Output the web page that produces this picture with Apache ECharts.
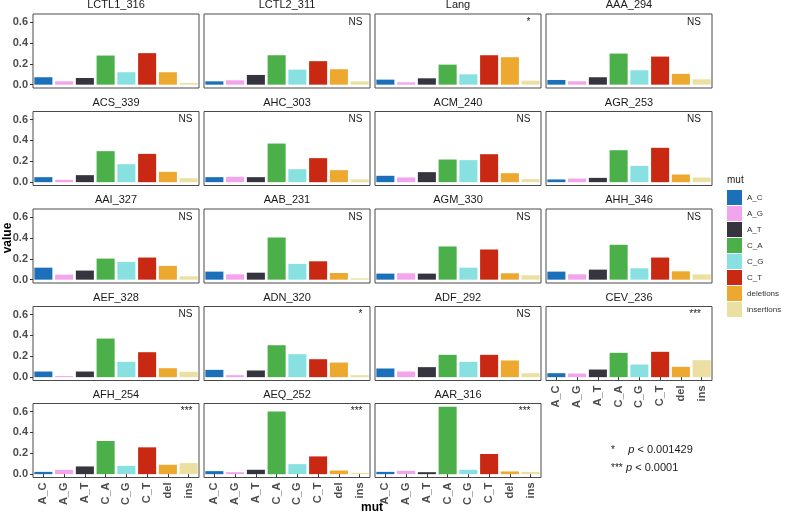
<!DOCTYPE html>
<html>
<head>
<meta charset="utf-8">
<script src="https://cdn.jsdelivr.net/npm/echarts@6/dist/echarts.min.js"></script>
<style>
html,body{margin:0;padding:0;background:#fff;}
#chart{width:789px;height:516px;}
</style>
</head>
<body>
<div id="chart"></div>
<script>
// ---- data ----
const categories = ['A_C','A_G','A_T','C_A','C_G','C_T','del','ins'];
const legendNames = ['A_C','A_G','A_T','C_A','C_G','C_T','deletions','insertions'];
const panelNames = ['LCTL1_316','LCTL2_311','Lang','AAA_294',
                    'ACS_339','AHC_303','ACM_240','AGR_253',
                    'AAI_327','AAB_231','AGM_330','AHH_346',
                    'AEF_328','ADN_320','ADF_292','CEV_236',
                    'AFH_254','AEQ_252','AAR_316'];
const significance = ['','NS','*','NS',
                      'NS','NS','NS','NS',
                      'NS','NS','NS','NS',
                      'NS','*','NS','***',
                      '***','***','***'];
const yTicks = [0, 0.2, 0.4, 0.6];

const v_LCTL1_316 = [0.071,0.032,0.064,0.279,0.119,0.302,0.119,0.016];
const v_LCTL2_311 = [0.032,0.042,0.093,0.282,0.144,0.225,0.148,0.032];
const v_Lang      = [0.048,0.022,0.061,0.192,0.099,0.282,0.263,0.038];
const v_AAA_294   = [0.045,0.032,0.071,0.298,0.138,0.269,0.103,0.051];
const v_ACS_339   = [0.048,0.022,0.067,0.297,0.172,0.271,0.099,0.038];
const v_AHC_303   = [0.048,0.051,0.048,0.370,0.124,0.230,0.115,0.026];
const v_ACM_240   = [0.061,0.045,0.096,0.217,0.211,0.268,0.086,0.029];
const v_AGR_253   = [0.026,0.035,0.041,0.306,0.156,0.329,0.073,0.045];
const v_AAI_327   = [0.115,0.048,0.087,0.202,0.170,0.212,0.132,0.032];
const v_AAB_231   = [0.077,0.051,0.067,0.404,0.151,0.176,0.064,0.013];
const v_AGM_330   = [0.058,0.061,0.058,0.318,0.115,0.289,0.061,0.042];
const v_AHH_346   = [0.077,0.051,0.096,0.334,0.109,0.212,0.080,0.051];
const v_AEF_328   = [0.054,0.010,0.054,0.370,0.147,0.239,0.086,0.051];
const v_ADN_320   = [0.070,0.019,0.064,0.306,0.220,0.172,0.140,0.019];
const v_ADF_292   = [0.083,0.054,0.096,0.214,0.147,0.214,0.160,0.038];
const v_CEV_236   = [0.038,0.035,0.073,0.233,0.121,0.243,0.099,0.163];
const v_AFH_254   = [0.022,0.042,0.074,0.318,0.080,0.257,0.090,0.106];
const v_AEQ_252   = [0.029,0.019,0.042,0.600,0.096,0.170,0.035,0.013];
const v_AAR_316   = [0.022,0.032,0.019,0.645,0.042,0.193,0.026,0.022];

const panelValues = [v_LCTL1_316,v_LCTL2_311,v_Lang,v_AAA_294,
                     v_ACS_339,v_AHC_303,v_ACM_240,v_AGR_253,
                     v_AAI_327,v_AAB_231,v_AGM_330,v_AHH_346,
                     v_AEF_328,v_ADN_320,v_ADF_292,v_CEV_236,
                     v_AFH_254,v_AEQ_252,v_AAR_316];

// ---- styles / layout ----
const palette = ['#1b70b9','#f2a4ec','#36343f','#4cb04a','#88e1e0','#c92913','#eda830','#ebe0a2'];
const FONT = '"Liberation Sans", Arial, sans-serif';
const colLeft = [33, 204, 375, 546];
const rowTop = [14, 111.5, 209, 306.5, 403.5];
const panelW = 166, panelH = 74;
const sigInset = [6.5, 7.5, 10.5, 11];
const nCols = 4;

const grids = [], xAxes = [], yAxes = [], series = [], graphics = [];

panelNames.forEach((name, p) => {
  const r = Math.floor(p / nCols), c = p % nCols;
  const left = colLeft[c], top = rowTop[r];
  const isBottom = (p + nCols) >= panelNames.length;
  const isLeft = c === 0;
  grids.push({left: left, top: top, width: panelW, height: panelH,
              show: true, borderColor: '#4a4a4a', borderWidth: 1, backgroundColor: 'transparent',
              containLabel: false});
  xAxes.push({type: 'category', gridIndex: p, data: categories, boundaryGap: true,
              axisLine: {show: false},
              axisTick: {show: isBottom, alignWithLabel: true, length: 3, lineStyle: {color: '#333'}},
              axisLabel: {show: isBottom, rotate: 90, margin: 5, interval: 0,
                          fontFamily: FONT, fontSize: 11, fontWeight: 'bold', color: '#4d4d4d'},
              splitLine: {show: false}});
  yAxes.push({type: 'value', gridIndex: p, min: -0.032, max: 0.677,
              axisLine: {show: false},
              axisTick: {show: isLeft, length: 3, customValues: yTicks, lineStyle: {color: '#333'}},
              axisLabel: {show: isLeft, customValues: yTicks, margin: 5,
                          formatter: v => v.toFixed(1),
                          fontFamily: FONT, fontSize: 11, fontWeight: 'bold', color: '#4d4d4d'},
              splitLine: {show: false}});
  const vals = panelValues[p];
  categories.forEach((cat, k) => {
    const data = categories.map((_, j) => j === k ? vals[k] : '-');
    series.push({type: 'bar', name: legendNames[k], xAxisIndex: p, yAxisIndex: p,
                 stack: 'panel' + p, data: data, barWidth: '87%',
                 itemStyle: {color: palette[k]}, silent: true, animation: false});
  });
  // strip title
  graphics.push({type: 'text', x: left + panelW / 2, y: top - 9,
                 style: {text: name, align: 'center', verticalAlign: 'middle',
                         font: '11px ' + FONT, fill: '#1a1a1a'}});
  if (significance[p]) {
    graphics.push({type: 'text', x: left + panelW - sigInset[c], y: top + 8,
                   style: {text: significance[p], align: 'right', verticalAlign: 'middle',
                           font: '10px ' + FONT, fill: '#1a1a1a'}});
  }
});

// axis titles
graphics.push({type: 'text', x: 8, y: 238, rotation: Math.PI / 2,
               style: {text: 'value', align: 'center', verticalAlign: 'middle',
                       font: 'bold 12px ' + FONT, fill: '#000'}});
graphics.push({type: 'text', x: 372, y: 508,
               style: {text: 'mut', align: 'center', verticalAlign: 'middle',
                       font: 'bold 12px ' + FONT, fill: '#000'}});
// legend title
graphics.push({type: 'text', x: 727, y: 180,
               style: {text: 'mut', align: 'left', verticalAlign: 'middle',
                       font: '10px ' + FONT, fill: '#1a1a1a'}});
// p-value key
const richP = {i: {fontStyle: 'italic', fontSize: 11, fontFamily: FONT, fill: '#1a1a1a'},
               n: {fontSize: 11, fontFamily: FONT, fill: '#1a1a1a'},
               s: {fontSize: 10, fontFamily: FONT, fill: '#1a1a1a'}};
graphics.push({type: 'text', x: 611, y: 450,
               style: {text: '{s|*}    {i|p}{n| < 0.001429}', rich: richP, verticalAlign: 'middle'}});
graphics.push({type: 'text', x: 611, y: 468,
               style: {text: '{s|***} {i|p}{n| < 0.0001}', rich: richP, verticalAlign: 'middle'}});

const option = {
  backgroundColor: '#ffffff',
  animation: false,
  grid: grids,
  xAxis: xAxes,
  yAxis: yAxes,
  series: series,
  legend: {orient: 'vertical', left: 727, top: 190, padding: 0,
           itemWidth: 15, itemHeight: 15, itemGap: 1, icon: 'rect',
           selectedMode: false, data: legendNames,
           textStyle: {fontFamily: FONT, fontSize: 8, color: '#333'}},
  graphic: graphics
};

const chart = echarts.init(document.getElementById('chart'), null, {renderer: 'canvas'});
chart.setOption(option);
</script>
</body>
</html>
